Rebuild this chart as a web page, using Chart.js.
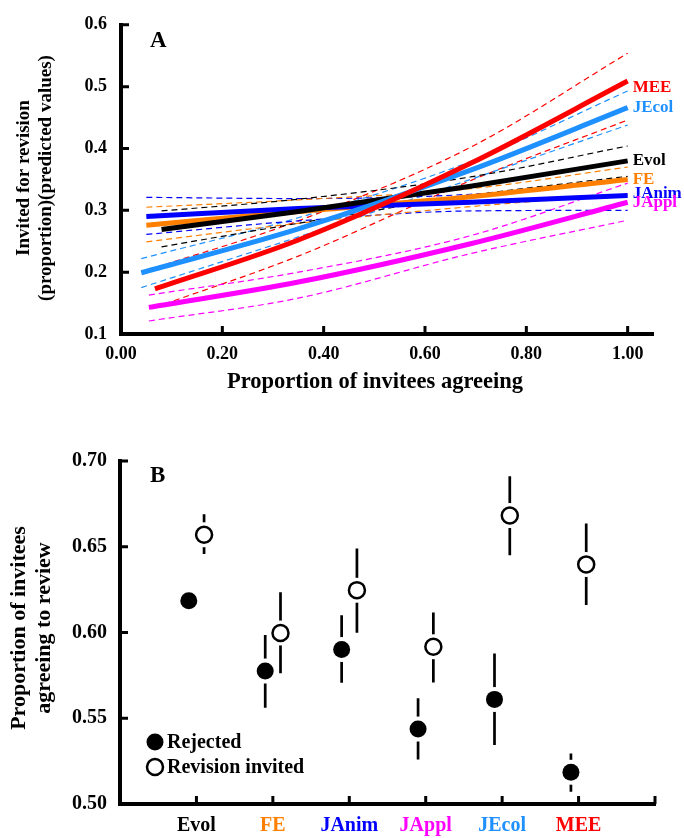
<!DOCTYPE html>
<html>
<head>
<meta charset="utf-8">
<script src="https://cdn.jsdelivr.net/npm/chart.js@4.4.1/dist/chart.umd.min.js"></script>
<style>
  body { margin: 0; background: #fff; }
  .panel { position: absolute; left: 0; width: 684px; }
  #wrapA { top: 0; height: 420px; }
  #wrapB { top: 420px; height: 418px; }
</style>
</head>
<body>
<div class="panel" id="wrapA"><canvas id="chartA" width="684" height="420"></canvas></div>
<div class="panel" id="wrapB"><canvas id="chartB" width="684" height="418"></canvas></div>
<script>
// journals, shared by both panels
const journals = ["Evol", "FE", "JAnim", "JAppl", "JEcol", "MEE"]
const journalColors = ["#000000", "#FF8000", "#0000FF", "#FF00FF", "#1E90FF", "#FF0000"]

// panel A: predicted proportion invited for revision (fit, upper and lower CI)
const evolX = [0.08, 0.35, 0.69, 1.0]
const evolFit = [0.269, 0.298, 0.339, 0.380]
const evolHi = [0.299, 0.318, 0.354, 0.404]
const evolLo = [0.241, 0.279, 0.324, 0.355]

const feX = [0.05, 0.35, 0.69, 1.0]
const feFit = [0.276, 0.298, 0.322, 0.350]
const feHi = [0.305, 0.317, 0.335, 0.370]
const feLo = [0.249, 0.279, 0.306, 0.326]

const janimX = [0.05, 0.35, 0.69, 1.0]
const janimFit = [0.290, 0.303, 0.313, 0.324]
const janimHi = [0.321, 0.319, 0.326, 0.349]
const janimLo = [0.261, 0.283, 0.299, 0.300]

const japplX = [0.055, 0.35, 0.69, 1.0]
const japplFit = [0.143, 0.184, 0.246, 0.313]
const japplHi = [0.163, 0.200, 0.259, 0.344]
const japplLo = [0.121, 0.158, 0.230, 0.284]

const jecolX = [0.04, 0.35, 0.69, 1.0]
const jecolFit = [0.199, 0.270, 0.365, 0.466]
const jecolHi = [0.222, 0.288, 0.379, 0.493]
const jecolLo = [0.175, 0.257, 0.350, 0.438]

const meeX = [0.067, 0.35, 0.69, 1.0]
const meeFit = [0.173, 0.252, 0.376, 0.509]
const meeHi = [0.207, 0.283, 0.402, 0.554]
const meeLo = [0.143, 0.226, 0.348, 0.446]

const aXTicks = [0, 0.2, 0.4, 0.6, 0.8, 1.0]
const aYTicks = [0.1, 0.2, 0.3, 0.4, 0.5, 0.6]

// panel B: proportion of invitees agreeing to review (mean and CI)
const rejectedMean = [0.6185, 0.5775, 0.5901, 0.5437, 0.5610, 0.5185]
const rejectedLo = [0.614, 0.5561, 0.5707, 0.5260, 0.5344, 0.5072]
const rejectedHi = [0.623, 0.5985, 0.6101, 0.5616, 0.5878, 0.5295]
const invitedMean = [0.6570, 0.5997, 0.6247, 0.5917, 0.6682, 0.6397]
const invitedLo = [0.6457, 0.5762, 0.5998, 0.5709, 0.6451, 0.6160]
const invitedHi = [0.6690, 0.6234, 0.6490, 0.6117, 0.6911, 0.6636]

const bXTicks = [0, 1, 2, 3, 4, 5, 6, 7]
const bYTicks = [0.5, 0.55, 0.6, 0.65, 0.7]

const serif = '"Liberation Serif", "Times New Roman", serif'
Chart.defaults.font.family = serif
Chart.defaults.font.weight = "bold"
Chart.defaults.color = "#000"

const seriesX = [evolX, feX, janimX, japplX, jecolX, meeX]
const seriesFit = [evolFit, feFit, janimFit, japplFit, jecolFit, meeFit]
const seriesHi = [evolHi, feHi, janimHi, japplHi, jecolHi, meeHi]
const seriesLo = [evolLo, feLo, janimLo, japplLo, jecolLo, meeLo]
const solidOrder = [2, 4, 3, 5, 1, 0]
const labelNudge = [0, 0, -2, 0, 0, 7]

const toPts = (xs, ys) => xs.map((x, i) => ({ x: x, y: ys[i] }))

// thick ticks pointing into the plot
const innerTicks = {
  id: "innerTicks",
  afterDraw(chart, args, opts) {
    const { ctx, scales: { x, y } } = chart
    ctx.save()
    ctx.strokeStyle = "#000"
    ctx.lineWidth = 3
    ctx.beginPath()
    opts.x.forEach(v => {
      const px = x.getPixelForValue(v)
      ctx.moveTo(px, y.bottom)
      ctx.lineTo(px, y.bottom - 8)
    })
    opts.y.forEach(v => {
      const py = y.getPixelForValue(v)
      ctx.moveTo(x.left, py)
      ctx.lineTo(x.left + 8, py)
    })
    ctx.stroke()
    ctx.restore()
  },
}

// axis titles, panel letter and end-of-line labels
const textA = {
  id: "textA",
  afterDraw(chart) {
    const { ctx, chartArea: a, scales: { x, y } } = chart
    ctx.save()
    ctx.fillStyle = "#000"
    ctx.font = "bold 23px " + serif
    ctx.textAlign = "left"
    ctx.textBaseline = "alphabetic"
    ctx.fillText("A", a.left + 29, a.top + 22)

    ctx.font = "bold 22.5px " + serif
    ctx.textAlign = "center"
    ctx.textBaseline = "middle"
    ctx.fillText("Proportion of invitees agreeing", 375, 382)

    ctx.font = "bold 19px " + serif
    ctx.save()
    ctx.translate(0, 178)
    ctx.rotate(-Math.PI / 2)
    ctx.textBaseline = "alphabetic"
    ctx.fillText("Invited for revision", 0, 29)
    ctx.fillText("(proportion)(predicted values)", 0, 51)
    ctx.restore()

    ctx.font = "bold 17px " + serif
    ctx.textAlign = "left"
    ctx.textBaseline = "middle"
    journals.forEach((name, i) => {
      const xs = seriesX[i]
      const ys = seriesFit[i]
      ctx.fillStyle = journalColors[i]
      ctx.fillText(name, x.getPixelForValue(xs[xs.length - 1]) + 5, y.getPixelForValue(ys[ys.length - 1]) + labelNudge[i])
    })
    ctx.restore()
  },
}

const datasetsA = []
journals.forEach((name, i) => {
  datasetsA.push({
    label: name,
    data: toPts(seriesX[i], seriesFit[i]),
    borderColor: journalColors[i],
    borderWidth: 5,
    showLine: true,
    pointRadius: 0,
    cubicInterpolationMode: "monotone",
    order: solidOrder[i],
  })
  ;[seriesHi[i], seriesLo[i]].forEach(band => {
    datasetsA.push({
      label: name + " CI",
      data: toPts(seriesX[i], band),
      borderColor: journalColors[i],
      borderWidth: 1.2,
      borderDash: [6, 4],
      showLine: true,
      pointRadius: 0,
      cubicInterpolationMode: "monotone",
      order: 10,
    })
  })
})

const chartA = new Chart(document.getElementById("chartA"), {
  type: "scatter",
  data: { datasets: datasetsA },
  options: {
    responsive: false,
    animation: false,
    events: [],
    layout: { padding: { left: 0, top: 13, right: 31, bottom: 0 } },
    plugins: {
      legend: { display: false },
      tooltip: { enabled: false },
      innerTicks: { x: aXTicks.slice(1), y: aYTicks },
    },
    scales: {
      x: {
        type: "linear",
        min: 0,
        max: 1.05,
        afterBuildTicks: s => { s.ticks = aXTicks.map(v => ({ value: v })) },
        afterFit: s => { s.height = 86 },
        grid: { display: false, drawTicks: false },
        border: { display: true, width: 4, color: "#000" },
        ticks: { padding: 10, font: { size: 18, weight: "bold" }, callback: v => v.toFixed(2), maxRotation: 0 },
      },
      y: {
        min: 0.1,
        max: 0.6,
        afterBuildTicks: s => { s.ticks = aYTicks.map(v => ({ value: v })) },
        afterFit: s => { s.width = 121 },
        grid: { display: false, drawTicks: false },
        border: { display: true, width: 4, color: "#000" },
        ticks: { padding: 14, font: { size: 18, weight: "bold" }, callback: v => v.toFixed(1) },
      },
    },
  },
  plugins: [innerTicks, textA],
})

// panel B
const dodge = 0.1

const errBars = {
  id: "errBars",
  beforeDatasetsDraw(chart) {
    const { ctx, scales: { x, y } } = chart
    const groups = [
      [rejectedMean, rejectedLo, rejectedHi, -dodge],
      [invitedMean, invitedLo, invitedHi, dodge],
    ]
    ctx.save()
    ctx.strokeStyle = "#000"
    ctx.lineWidth = 2.7
    ctx.beginPath()
    groups.forEach(([m, lo, hi, off]) => {
      m.forEach((v, i) => {
        const px = x.getPixelForValue(i + 1 + off)
        ctx.moveTo(px, y.getPixelForValue(lo[i]))
        ctx.lineTo(px, y.getPixelForValue(hi[i]))
      })
    })
    ctx.stroke()
    ctx.fillStyle = "#fff"
    groups.forEach(([m, lo, hi, off]) => {
      m.forEach((v, i) => {
        ctx.beginPath()
        ctx.arc(x.getPixelForValue(i + 1 + off), y.getPixelForValue(v), 12.5, 0, Math.PI * 2)
        ctx.fill()
      })
    })
    ctx.restore()
  },
}

const textB = {
  id: "textB",
  afterDraw(chart) {
    const { ctx, chartArea: a } = chart
    ctx.save()
    ctx.fillStyle = "#000"
    ctx.font = "bold 23px " + serif
    ctx.textAlign = "left"
    ctx.textBaseline = "alphabetic"
    ctx.fillText("B", a.left + 30, a.top + 21)

    ctx.font = "bold 22px " + serif
    ctx.textAlign = "center"
    ctx.save()
    ctx.translate(0, 208)
    ctx.rotate(-Math.PI / 2)
    ctx.fillText("Proportion of invitees", 0, 25)
    ctx.fillText("agreeing to review", 0, 50)
    ctx.restore()

    // legend
    const lx = a.left + 35
    const rows = [["Rejected", a.bottom - 62, true], ["Revision invited", a.bottom - 37, false]]
    rows.forEach(([txt, ly, filled]) => {
      ctx.beginPath()
      ctx.arc(lx, ly, filled ? 8.5 : 8, 0, Math.PI * 2)
      if (filled) {
        ctx.fillStyle = "#000"
        ctx.fill()
      } else {
        ctx.fillStyle = "#fff"
        ctx.fill()
        ctx.lineWidth = 2.5
        ctx.strokeStyle = "#000"
        ctx.stroke()
      }
      ctx.fillStyle = "#000"
      ctx.font = "bold 20px " + serif
      ctx.textAlign = "left"
      ctx.textBaseline = "middle"
      ctx.fillText(txt, lx + 12, ly + 1)
    })
    ctx.restore()
  },
}

const chartB = new Chart(document.getElementById("chartB"), {
  type: "scatter",
  data: {
    datasets: [
      {
        label: "Rejected",
        data: rejectedMean.map((v, i) => ({ x: i + 1 - dodge, y: v })),
        pointRadius: 8.5,
        pointBackgroundColor: "#000",
        pointBorderWidth: 0,
      },
      {
        label: "Revision invited",
        data: invitedMean.map((v, i) => ({ x: i + 1 + dodge, y: v })),
        pointRadius: 8,
        pointBackgroundColor: "#fff",
        pointBorderColor: "#000",
        pointBorderWidth: 2.5,
      },
    ],
  },
  options: {
    responsive: false,
    animation: false,
    events: [],
    layout: { padding: { left: 0, top: 41, right: 29, bottom: 0 } },
    plugins: {
      legend: { display: false },
      tooltip: { enabled: false },
      innerTicks: { x: bXTicks.slice(1), y: bYTicks },
    },
    scales: {
      x: {
        type: "linear",
        min: 0,
        max: 7,
        afterBuildTicks: s => { s.ticks = bXTicks.map(v => ({ value: v })) },
        afterFit: s => { s.height = 34 },
        grid: { display: false, drawTicks: false },
        border: { display: true, width: 4, color: "#000" },
        ticks: {
          padding: 10,
          font: { size: 20, weight: "bold" },
          callback: v => journals[v - 1] || "",
          color: c => journalColors[c.tick.value - 1] || "#000",
          maxRotation: 0,
          autoSkip: false,
        },
      },
      y: {
        min: 0.5,
        max: 0.7,
        afterBuildTicks: s => { s.ticks = bYTicks.map(v => ({ value: v })) },
        afterFit: s => { s.width = 120 },
        grid: { display: false, drawTicks: false },
        border: { display: true, width: 4, color: "#000" },
        ticks: { padding: 13, font: { size: 20, weight: "bold" }, callback: v => v.toFixed(2) },
      },
    },
  },
  plugins: [errBars, innerTicks, textB],
})
</script>
</body>
</html>
